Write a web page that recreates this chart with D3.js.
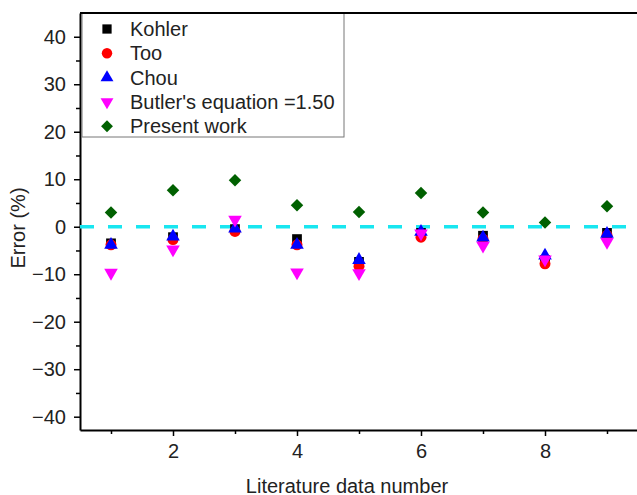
<!DOCTYPE html>
<html>
<head>
<meta charset="utf-8">
<script src="https://cdn.jsdelivr.net/npm/d3@7"></script>
<style>
  body { margin: 0; background: #fff; }
  text { font-family: "Liberation Sans", Arial, sans-serif; fill: #222; }
</style>
</head>
<body>
<div id="chart"></div>
<script>
const dataNumber = [1, 2, 3, 4, 5, 6, 7, 8, 9];
const kohler  = [-3.5, -2.2, -0.5, -2.6, -7.4, -1.3, -1.9, -7.0, -1.3];
const too     = [-3.8, -2.7, -1.0, -3.8, -8.3, -2.2, -2.6, -7.8, -1.8];
const chou    = [-3.8, -2.1, -0.4, -3.8, -7.0, -1.1, -2.3, -6.1, -1.5];
const butler  = [-9.7, -4.8, 1.5, -9.6, -9.8, -1.4, -4.0, -6.9, -3.2];
const present = [3.0, 7.7, 9.8, 4.5, 3.1, 7.1, 3.0, 0.9, 4.3];
const seriesNames = ["Kohler", "Too", "Chou", "Butler's equation =1.50", "Present work"];
const yTicks = [-40, -30, -20, -10, 0, 10, 20, 30, 40];
const xTicks = [2, 4, 6, 8];

const W = 637, H = 495;
const margin = { top: 13, right: -1, bottom: 65, left: 80 };
const width = W - margin.left - margin.right;
const height = H - margin.top - margin.bottom;
const fontSize = "20px";

const svg = d3.select("#chart").append("svg")
    .attr("width", W)
    .attr("height", H);

const g = svg.append("g")
    .attr("transform", `translate(${margin.left}, ${margin.top})`);

const x = d3.scaleLinear().domain([0.5, 9.5]).range([0, width]);
const y = d3.scaleLinear().domain([-42.8, 45]).range([height, 0]);

// minor ticks
g.append("g")
    .attr("transform", `translate(0, ${height})`)
    .call(d3.axisBottom(x).tickValues([1, 3, 5, 7, 9]).tickSize(4).tickFormat(""))
    .call(a => a.select(".domain").remove());
g.append("g")
    .call(d3.axisLeft(y).tickValues(d3.range(-35, 45, 10)).tickSize(4).tickFormat(""))
    .call(a => a.select(".domain").remove());

// major axes
const xAxis = g.append("g")
    .attr("transform", `translate(0, ${height})`)
    .call(d3.axisBottom(x).tickValues(xTicks).tickSizeInner(6).tickSizeOuter(0).tickPadding(8));
const yAxis = g.append("g")
    .call(d3.axisLeft(y).tickValues(yTicks).tickSizeInner(6).tickSizeOuter(0).tickPadding(8)
        .tickFormat(d => d < 0 ? "\u2212" + Math.abs(d) : d));

[xAxis, yAxis].forEach(a => {
    a.selectAll("text").style("font-size", fontSize).style("fill", "#222")
        .style("font-family", "Liberation Sans, Arial, sans-serif");
    a.select(".domain").attr("stroke-width", 2);
});
svg.selectAll(".tick line").attr("stroke-width", 1.5);

// zero reference
g.append("line")
    .attr("x1", 0).attr("x2", width)
    .attr("y1", y(0)).attr("y2", y(0))
    .attr("stroke", "#19e6f0")
    .attr("stroke-width", 3.5)
    .attr("stroke-dasharray", "14,14");

const styles = [
    { color: "#000000", sym: d3.symbolSquare, size: 95, rot: 0 },
    { color: "#ff0000", sym: d3.symbolCircle, size: 95, rot: 0 },
    { color: "#0000ff", sym: d3.symbolTriangle, size: 80, rot: 0 },
    { color: "#ff00ff", sym: d3.symbolTriangle, size: 80, rot: 180 },
    { color: "#006000", sym: d3.symbolSquare, size: 78, rot: 45 }
];
const allSeries = [kohler, too, chou, butler, present];

allSeries.forEach((vals, i) => {
    const st = styles[i];
    g.selectAll(".s" + i)
        .data(dataNumber)
        .enter()
        .append("path")
        .attr("class", "s" + i)
        .attr("d", d3.symbol().type(st.sym).size(st.size))
        .attr("transform", (d, j) => `translate(${x(d)}, ${y(vals[j])}) rotate(${st.rot})`)
        .attr("fill", st.color);
});

// legend
const legend = svg.append("g");
legend.append("rect")
    .attr("x", 82).attr("y", 13)
    .attr("width", 262).attr("height", 124)
    .attr("fill", "#fff")
    .attr("stroke", "#777")
    .attr("stroke-width", 1);
// top frame line
svg.append("line")
    .attr("x1", margin.left).attr("x2", W)
    .attr("y1", margin.top).attr("y2", margin.top)
    .attr("stroke", "#000").attr("stroke-width", 2);

seriesNames.forEach((name, i) => {
    const st = styles[i];
    const cy = 29 + i * 24.3;
    legend.append("path")
        .attr("d", d3.symbol().type(st.sym).size(st.size * 0.9))
        .attr("transform", `translate(107, ${cy}) rotate(${st.rot})`)
        .attr("fill", st.color);
    legend.append("text")
        .attr("x", 130)
        .attr("y", cy + 7)
        .style("font-size", fontSize)
        .text(name);
});

// axis titles
svg.append("text")
    .attr("transform", "rotate(-90)")
    .attr("x", -228)
    .attr("y", 25)
    .attr("text-anchor", "middle")
    .style("font-size", fontSize)
    .text("Error (%)");

svg.append("text")
    .attr("x", 347)
    .attr("y", 493)
    .attr("text-anchor", "middle")
    .style("font-size", fontSize)
    .text("Literature data number");
</script>
</body>
</html>
